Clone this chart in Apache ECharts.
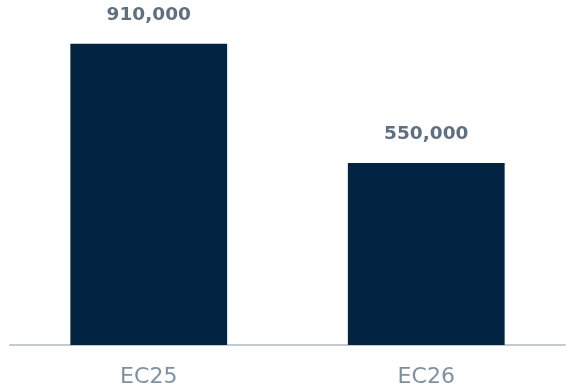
<!DOCTYPE html>
<html>
<head>
<meta charset="utf-8">
<script src="https://cdn.jsdelivr.net/npm/echarts@6/dist/echarts.min.js"></script>
<style>
  html, body { margin: 0; padding: 0; background: #ffffff; }
  #chart { width: 569px; height: 390px; }
</style>
</head>
<body>
<div id="chart"></div>
<script>
// Volumes per edition
const categories = ['EC25', 'EC26'];
const values = [910000, 550000];

const chart = echarts.init(document.getElementById('chart'), null, { renderer: 'canvas' });

chart.setOption({
  animation: false,
  grid: { left: 10, right: 4, top: 14, bottom: 45, containLabel: false },
  xAxis: {
    type: 'category',
    data: categories,
    axisTick: { show: false },
    axisLine: { show: true, lineStyle: { color: '#c2cbd4', width: 2 } },
    axisLabel: {
      margin: 21,
      fontFamily: 'DejaVu Sans',
      fontSize: 22,
      color: '#7d91a5'
    }
  },
  yAxis: {
    type: 'value',
    min: 0,
    max: 1000000,
    show: false,
    splitLine: { show: false }
  },
  series: [{
    type: 'bar',
    data: values,
    barWidth: '56.5%',
    itemStyle: { color: '#022442' },
    label: {
      show: true,
      position: 'top',
      distance: 19,
      fontFamily: 'DejaVu Sans',
      fontWeight: 'bold',
      fontSize: 18.5,
      color: '#5e6f82',
      formatter: p => p.value.toLocaleString('en-US')
    }
  }]
});
</script>
</body>
</html>
